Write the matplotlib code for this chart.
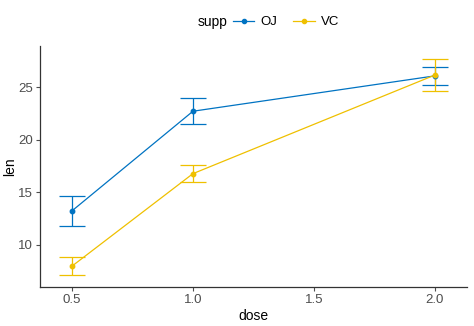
import matplotlib.pyplot as plt
from matplotlib.lines import Line2D

# ToothGrowth: mean +/- se by supp and dose
dose = [0.5, 1.0, 2.0]
oj_mean = [13.23, 22.70, 26.06]
oj_se = [1.41, 1.24, 0.84]
vc_mean = [7.98, 16.77, 26.14]
vc_se = [0.87, 0.80, 1.52]

col_oj = '#0073C2'
col_vc = '#EFC000'

plt.rcParams['font.family'] = ['Liberation Sans', 'DejaVu Sans']

fig = plt.figure(figsize=(4.74, 3.26), dpi=100)
ax = fig.add_axes([0.0844, 0.1196, 0.9006, 0.7394])

for m, se, c in [(oj_mean, oj_se, col_oj), (vc_mean, vc_se, col_vc)]:
    ax.errorbar(dose, m, yerr=se, color=c, lw=0.9, elinewidth=0.9,
                capsize=9.5, capthick=0.9, marker='o', markersize=3.2)

ax.set_xlim(0.368, 2.132)
ax.set_ylim(6.0, 28.9)
ax.set_xticks([0.5, 1.0, 1.5, 2.0])
ax.set_xticklabels(['0.5', '1.0', '1.5', '2.0'])
ax.set_yticks([10, 15, 20, 25])
ax.set_xlabel('dose', fontsize=10, labelpad=2)
ax.set_ylabel('len', fontsize=10, labelpad=1)
ax.tick_params(labelsize=9.5, colors='#4d4d4d', length=3, width=0.8, pad=2)
for lbl in ax.get_xticklabels() + ax.get_yticklabels():
    lbl.set_color('#4d4d4d')
for s in ['top', 'right']:
    ax.spines[s].set_visible(False)
for s in ['left', 'bottom']:
    ax.spines[s].set_linewidth(0.9)
    ax.spines[s].set_color('#333333')

# legend on top: title inline with the keys
fig.text(198 / 474, 0.932, 'supp', fontsize=10, ha='left', va='center')
handles = [Line2D([], [], color=col_oj, lw=0.9, marker='o', markersize=3),
           Line2D([], [], color=col_vc, lw=0.9, marker='o', markersize=3)]
fig.legend(handles, ['OJ', 'VC'], loc='center left', ncol=2,
           bbox_to_anchor=(233 / 474, 0.932), frameon=False, fontsize=9.5,
           handlelength=1.6, handletextpad=0.5, columnspacing=1.2,
           borderaxespad=0, borderpad=0)

fig.savefig('out.png', dpi=100)
